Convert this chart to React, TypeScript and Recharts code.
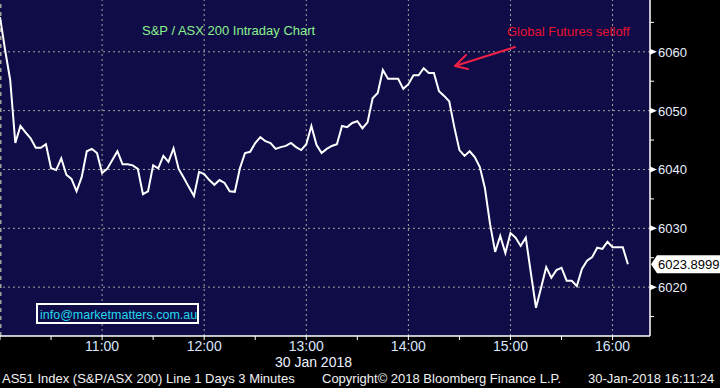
import React from 'react';
import { LineChart, Line, XAxis, YAxis, CartesianGrid, ReferenceLine } from 'recharts';

// S&P/ASX 200 intraday, 3 minute bars from 10:00
const stepMinutes = 3;
const prices = [
  6065.9, 6060.3, 6055.2, 6044.5, 6047.4, 6046.3, 6045.3, 6043.7, 6043.7, 6044.3,
  6040.2, 6039.9, 6041.9, 6039.1, 6038.4, 6036.3, 6038.7, 6043.1, 6043.5, 6042.8,
  6039.4, 6040.1, 6041.6, 6043.1, 6040.9, 6040.9, 6040.7, 6040.1, 6035.8, 6036.3,
  6040.7, 6040.2, 6042.3, 6041.3, 6043.6, 6040.1, 6038.6, 6037.0, 6035.5, 6039.6,
  6039.2, 6038.2, 6037.4, 6038.2, 6037.7, 6036.3, 6036.2, 6040.2, 6042.8, 6043.0,
  6044.5, 6045.5, 6044.8, 6044.5, 6043.5, 6043.8, 6044.0, 6044.5, 6043.8, 6043.3,
  6044.3, 6047.4, 6044.2, 6042.8, 6043.5, 6044.0, 6044.3, 6047.4, 6047.2, 6047.9,
  6048.2, 6047.0, 6048.0, 6052.1, 6053.0, 6056.9, 6055.4, 6055.4, 6055.4, 6053.7,
  6054.5, 6056.0, 6056.0, 6057.2, 6056.4, 6056.4, 6053.3, 6052.5, 6051.6, 6047.2,
  6043.3, 6042.3, 6043.1, 6042.1, 6040.4, 6036.8, 6030.7, 6026.0, 6028.7, 6025.8,
  6029.2, 6028.4, 6027.0, 6028.4, 6022.4, 6016.5, 6019.9, 6023.4, 6021.6, 6022.9,
  6023.3, 6021.1, 6021.1, 6020.2, 6023.1, 6024.5, 6025.1, 6026.7, 6026.5, 6027.7,
  6026.8, 6026.8, 6026.8, 6023.8999,
];
const lastPrice = prices[prices.length - 1];

const hourTicks = [0, 60, 120, 180, 240, 300, 360];
const hourLabels = ['10:00', '11:00', '12:00', '13:00', '14:00', '15:00', '16:00'];
const halfHourTicks = [30, 90, 150, 210, 270, 330];
const majorLevels = [6020, 6030, 6040, 6050, 6060];
const minorLevels = [6015, 6025, 6035, 6045, 6055, 6065];

const data = prices.map((v, i) => ({ t: i * stepMinutes, v }));

const FONT = '"Liberation Sans", Arial, sans-serif';
const NAVY = '#0f0c48';
const GRID = '#a6a39a';

const XTick = (props: any) => {
  const { x, y, payload } = props;
  const idx = hourTicks.indexOf(payload.value);
  return (
    <g>
      <line x1={x} x2={x} y1={y} y2={y + 4} stroke="#fff" strokeWidth={1} />
      {idx > 0 && (
        <text x={x} y={y + 15} textAnchor="middle" fill="#d8e6ff" fontSize={14} fontFamily={FONT}>
          {hourLabels[idx]}
        </text>
      )}
    </g>
  );
};

const YTick = (props: any) => {
  const { x, y, payload } = props;
  const v = payload.value;
  if (v === lastPrice) {
    return (
      <g>
        <polygon points={`${x + 1},${y} ${x + 7},${y - 9} ${720},${y - 9} ${720},${y + 9} ${x + 7},${y + 9}`} fill="#fff" />
        <text x={x + 8} y={y + 5} fill="#000" fontSize={13} fontFamily={FONT}>{v.toFixed(4)}</text>
      </g>
    );
  }
  if (majorLevels.includes(v)) {
    return (
      <g>
        <polygon points={`${x},${y - 3} ${x + 7},${y} ${x},${y + 3}`} fill="#fff" />
        <text x={x + 8} y={y + 5} fill="#e8f0ff" fontSize={13} fontFamily={FONT}>{v}</text>
      </g>
    );
  }
  return <line x1={x} x2={x + 4} y1={y} y2={y} stroke="#fff" strokeWidth={1} />;
};

export default function App() {
  const xTicks = [...hourTicks, ...halfHourTicks].sort((a, b) => a - b);
  const yTicks = [...minorLevels, ...majorLevels, lastPrice].sort((a, b) => a - b);
  return (
    <div style={{ position: 'absolute', left: 0, top: 0, width: 720, height: 388, background: '#000', overflow: 'hidden' }}>
      <LineChart width={720} height={388} data={data} margin={{ top: 0, right: 0, bottom: 0, left: 0 }}>
        <CartesianGrid horizontal={false} vertical={false} fill={NAVY} fillOpacity={1} stroke="none" />
        {majorLevels.map((lv) => (
          <ReferenceLine key={'h' + lv} y={lv} stroke={GRID} strokeDasharray="2 3" strokeWidth={1} />
        ))}
        {hourTicks.map((h) => (
          <ReferenceLine key={'v' + h} x={h} stroke={GRID} strokeDasharray={h === 0 ? '4 4' : '2 3'} strokeWidth={h === 0 ? 3 : 1} />
        ))}
        <XAxis
          dataKey="t"
          type="number"
          domain={[0, 382]}
          ticks={xTicks}
          interval={0}
          height={52}
          tickSize={0}
          tickMargin={0}
          tickLine={false}
          axisLine={{ stroke: '#fff', strokeWidth: 1.5 }}
          tick={XTick}
          allowDataOverflow
        />
        <YAxis
          orientation="right"
          type="number"
          domain={[6011.7, 6068.8]}
          ticks={yTicks}
          interval={0}
          width={70}
          tickSize={0}
          tickMargin={0}
          tickLine={false}
          axisLine={{ stroke: '#fff', strokeWidth: 1.5 }}
          tick={YTick}
          allowDataOverflow
        />
        <Line
          type="linear"
          dataKey="v"
          stroke="#fff"
          strokeWidth={2}
          dot={false}
          activeDot={false}
          isAnimationActive={false}
        />
      </LineChart>
      <svg width={720} height={388} style={{ position: 'absolute', left: 0, top: 0, pointerEvents: 'none' }}>
        <text x={142} y={35} fill="#8cf08c" fontSize={13} fontFamily={FONT}>S&amp;P / ASX 200 Intraday Chart</text>
        <text x={507} y={36} fill="#e8112d" fontSize={13} fontFamily={FONT}>Global Futures selloff</text>
        <g stroke="#ef2146" strokeWidth={2} fill="none" strokeLinecap="round">
          <line x1={515} y1={47} x2={455} y2={66} />
          <line x1={455} y1={66} x2={466} y2={55} />
          <line x1={455} y1={66} x2={468} y2={69} />
        </g>
        <rect x={37} y={304} width={161} height={19} fill={NAVY} stroke="#fff" strokeWidth={2} />
        <text x={40} y={319} fill="#22d8ea" fontSize={12.5} fontFamily={FONT}>info@marketmatters.com.au</text>
        <text x={352} y={367} textAnchor="end" fill="#eef2ff" fontSize={14} fontFamily={FONT}>30 Jan 2018</text>
        <text x={2} y={383} fill="#f2f2f2" fontSize={13} fontFamily={FONT}>AS51 Index (S&amp;P/ASX 200) Line 1 Days 3 Minutes</text>
        <text x={322} y={383} fill="#f2f2f2" fontSize={13} fontFamily={FONT}>Copyright© 2018 Bloomberg Finance L.P.</text>
        <text x={588} y={383} fill="#f2f2f2" fontSize={13} fontFamily={FONT}>30-Jan-2018 16:11:24</text>
      </svg>
    </div>
  );
}
